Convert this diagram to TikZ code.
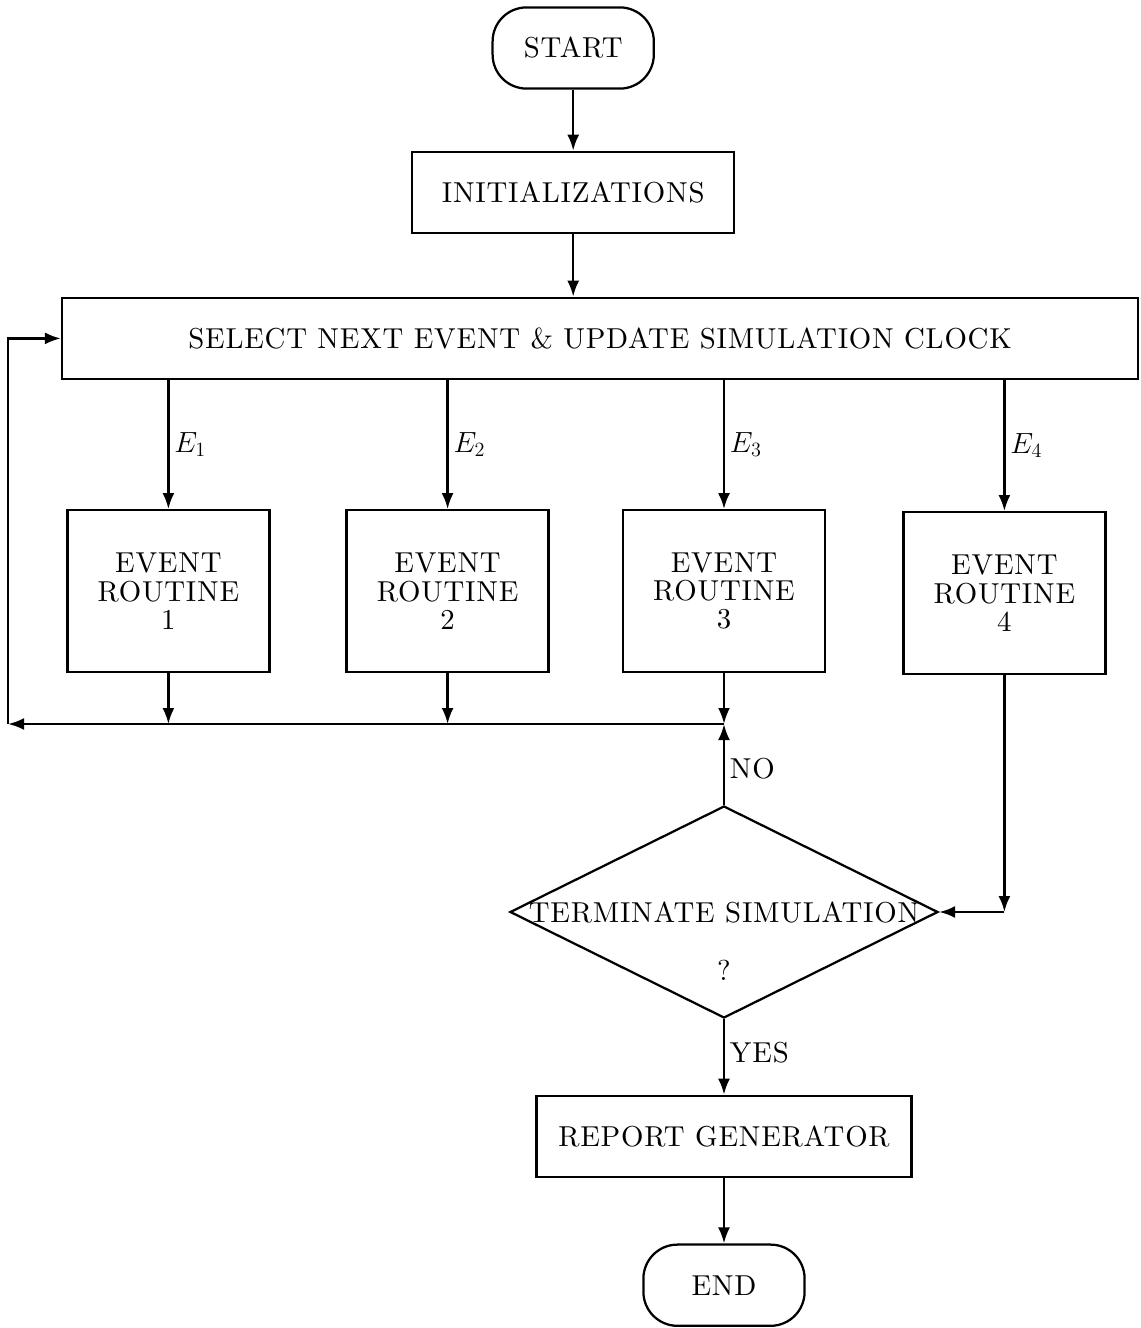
\documentclass[tikz,border=0pt]{standalone}
\usepackage{amsmath}
\usepackage{amssymb}
\usepackage{fontspec}
\setmainfont{lmroman10-regular.otf}[LetterSpace=2.7]
\usepackage{tikz}
\usetikzlibrary{shapes.geometric, arrows.meta, positioning, calc}

\tikzset{
  >={Latex[length=4mm,width=3mm]},
  box/.style={draw, line width=1.6pt, align=center, inner sep=2pt},
  terminal/.style={box, rounded corners=0.85cm, minimum width=4.03cm, minimum height=2.03cm},
  eventbox/.style={box, minimum width=5.05cm, minimum height=4.05cm},
  flow/.style={->, line width=1.8pt}
}

\begin{document}
\begin{tikzpicture}[font=\fontsize{20.5}{20}\selectfont]
\useasboundingbox (0,0) rectangle (28.525,-33.2);

% Top part
\node[terminal] (start) at (14.33,-1.2) {START};
\node[box, minimum width=8.05cm, minimum height=2.03cm] (init) at (14.33,-4.81) {INITIALIZATIONS};
\node[box, minimum width=26.9cm, minimum height=2.03cm] (sel) at (15.0,-8.46) {SELECT NEXT EVENT \& UPDATE SIMULATION CLOCK};

\draw[flow] (start) -- (init);
\draw[flow] (init) -- (init.south |- sel.north);

% Event routines
\foreach \i/\x/\y in {1/4.21/-14.78, 2/11.19/-14.78, 3/18.1/-14.78, 4/25.11/-14.83}{
  \node[eventbox] (e\i) at (\x,\y) {EVENT\\ROUTINE\\\i};
  \draw[flow] (sel.south -| e\i.north) -- (e\i.north) node[midway, right] {$E_{\i}$};
}

% Decision
\node[draw, diamond, line width=1.6pt, minimum width=10.7cm, minimum height=5.3cm, inner sep=0pt] (decide) at (18.1,-22.8) {};
\node (termtxt) at (18.1,-22.8) {TERMINATE SIMULATION};
\node (qmark) at (18.1,-24.25) {?};

% Bottom part
\node[box, minimum width=9.38cm, minimum height=2.03cm] (report) at (18.1,-28.41) {REPORT GENERATOR};
\node[terminal] (end) at (18.1,-32.13) {END};

% Return loop
\coordinate (join) at (18.1,-18.1);
\coordinate (back) at (0.2,-18.1);
\draw[flow] (e1.south) -- (e1.south |- join);
\draw[flow] (e2.south) -- (e2.south |- join);
\draw[flow] (e3.south) -- (join);
\draw[flow] (join) -- (back);
\draw[flow] (back) |- (sel.west);
\draw[flow] (decide.north) -- (join) node[pos=0.45, right] {NO};

% Event 4 into decision
\coordinate (corner) at (e4.south |- decide.east);
\draw[flow] (e4.south) -- (corner);
\draw[flow] (corner) -- (decide.east);

\draw[flow] (decide.south) -- (report.north) node[pos=0.45, right] {YES};
\draw[flow] (report) -- (end);
\end{tikzpicture}
\end{document}
